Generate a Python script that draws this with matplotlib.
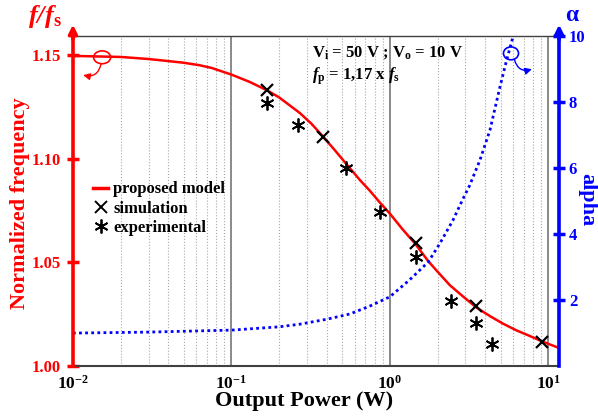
import matplotlib
matplotlib.use("Agg")
import matplotlib.pyplot as plt
from matplotlib.lines import Line2D
from matplotlib.patches import Ellipse
from matplotlib.ticker import FixedLocator, NullFormatter

plt.rcParams['font.family'] = ['Liberation Serif', 'DejaVu Serif']
plt.rcParams['font.weight'] = 'bold'
plt.rcParams['mathtext.fontset'] = 'custom'
plt.rcParams['mathtext.rm'] = 'Liberation Serif:bold'
plt.rcParams['mathtext.bf'] = 'Liberation Serif:bold'
plt.rcParams['mathtext.it'] = 'Liberation Serif:italic:bold'
plt.rcParams['mathtext.bfit'] = 'Liberation Serif:italic:bold'

# proposed model curve
model_p = [0.01, 0.02, 0.03, 0.04, 0.05, 0.063, 0.075, 0.1, 0.13, 0.167, 0.2, 0.27,
           0.32, 0.38, 0.45, 0.53, 0.65, 0.748, 0.865, 1.0, 1.2, 1.44, 1.75, 2.0, 2.39,
           2.9, 3.52, 4.3, 5.19, 6.3, 7.64, 9.2, 11.7]
model_f = [1.1495, 1.149, 1.148, 1.147, 1.1462, 1.145, 1.1437, 1.1405, 1.137, 1.133,
           1.1295, 1.122, 1.1168, 1.1105, 1.104, 1.0975, 1.0895, 1.0845, 1.0788, 1.0735,
           1.066, 1.0591, 1.0505, 1.0455, 1.039, 1.0335, 1.0282, 1.024, 1.0204, 1.0172,
           1.0145, 1.0118, 1.0087]

# simulation points
sim_p = [0.167, 0.38, 1.46, 3.49, 9.06]
sim_f = [1.133, 1.1105, 1.0591, 1.029, 1.0116]

# experimental points
exp_p = [0.167, 0.264, 0.53, 0.865, 1.46, 2.43, 3.49, 4.38]
exp_f = [1.127, 1.116, 1.0953, 1.0742, 1.0527, 1.0315, 1.021, 1.0106]

# alpha curve (right axis)
alpha_p = [0.01, 0.03, 0.1, 0.2, 0.27, 0.4, 0.56, 0.748, 1.0, 1.33, 1.75, 2.07,
           2.5, 2.9, 3.17, 3.7, 4.28, 4.95, 5.45, 6.0, 6.2]
alpha_v = [1.0, 1.03, 1.09, 1.19, 1.27, 1.42, 1.58, 1.82, 2.10, 2.61, 3.16, 3.72,
           4.42, 5.08, 5.45, 6.24, 7.15, 8.46, 9.27, 10.0, 10.3]

red = '#ff0000'
blue = '#0000ff'

fig = plt.figure(figsize=(5.98, 4.16), dpi=100)
ax = fig.add_axes([0.122, 0.120, 0.813, 0.793])
ax2 = ax.twinx()

ax.set_xscale('log')
ax.set_xlim(0.01, 11.7)
ax.set_ylim(1.0, 1.159)
ax2.set_ylim(0, 10)

# grid: solid decades, dotted minors
ax.grid(True, which='major', axis='x', color='#808080', lw=1.3, ls='-')
ax.grid(True, which='minor', axis='x', color='#a8a8a8', lw=0.8, ls=':')
ax.set_axisbelow(True)

ax.plot(model_p, model_f, color=red, lw=1.8, zorder=3)
ax.plot(sim_p, sim_f, ls='none', marker='x', ms=8, mew=1.6, color='black', zorder=4)
ax.plot(exp_p, exp_f, ls='none', marker=(6, 2, 0), ms=10, mew=1.3, color='black', zorder=4)
ax2.plot(alpha_p, alpha_v, color=blue, lw=2.0, ls=(0, (1, 1.2)))

# spines
for s in ['left', 'right']:
    ax.spines[s].set_visible(False)
ax2.spines['left'].set_color(red)
ax2.spines['left'].set_linewidth(2.6)
ax2.spines['right'].set_color(blue)
ax2.spines['right'].set_linewidth(2.6)
ax2.spines['top'].set_visible(False)
ax2.spines['bottom'].set_visible(False)
ax.spines['top'].set_color('#404040')
ax.spines['top'].set_linewidth(1.0)
ax.spines['bottom'].set_color('#404040')
ax.spines['bottom'].set_linewidth(1.5)

# ticks
ax.set_yticks([1.00, 1.05, 1.10, 1.15])
ax.tick_params(axis='y', direction='inout', length=9, width=2.5, colors=red,
               labelsize=12, pad=4)
ax2.yaxis.set_major_locator(FixedLocator([2, 4, 6, 8, 10]))
ax2.tick_params(axis='y', direction='inout', length=9, width=2.5, colors=blue,
                labelsize=12, pad=2.5)
ax.tick_params(axis='x', which='both', length=0, labelsize=12.5, pad=6)
ax.xaxis.set_minor_formatter(NullFormatter())
for lab in ax.get_yticklabels() + ax2.get_yticklabels() + ax.get_xticklabels():
    lab.set_fontweight('bold')

# arrows on the vertical axes
ax2.annotate('', xy=(0, 1.035), xytext=(0, 0.99), xycoords='axes fraction',
             arrowprops=dict(arrowstyle='-|>,head_length=0.5,head_width=0.25',
                             color=red, lw=2.6, shrinkA=0, shrinkB=0), annotation_clip=False)
ax2.annotate('', xy=(1, 1.035), xytext=(1, 0.99), xycoords='axes fraction',
             arrowprops=dict(arrowstyle='-|>,head_length=0.5,head_width=0.25',
                             color=blue, lw=2.6, shrinkA=0, shrinkB=0), annotation_clip=False)

# axis labels
ax.set_xlabel('Output Power (W)', fontsize=16, fontweight='bold')
ax.xaxis.set_label_coords(0.475, -0.076)
fig.text(0.034, 0.512, 'Normalized frequency', rotation=90, ha='center', va='center',
         fontsize=16, fontweight='bold', color=red)
fig.text(0.982, 0.52, 'alpha', rotation=270, ha='center', va='center',
         fontsize=16, fontweight='bold', color=blue)
fig.text(0.075, 0.96, r'$\mathbfit{f/f}_{\mathbf{s}}$', ha='center', va='center',
         fontsize=19, color=red)
fig.text(0.958, 0.963, r'$\mathbf{\alpha}$', ha='center', va='center',
         fontsize=17, color=blue)

# condition text
ax.text(0.492, 0.95, r'V$_{\mathbf{i}}$ = 50 V ; V$_{\mathbf{o}}$ = 10 V', transform=ax.transAxes,
        ha='left', va='center', fontsize=12, fontweight='bold')
ax.text(0.492, 0.88, r'$\mathbfit{f}_{\mathbf{p}}$ = 1,17 x $\mathbfit{f}_{\mathbf{s}}$',
        transform=ax.transAxes, ha='left', va='center', fontsize=12, fontweight='bold')

# ellipses with curved arrows pointing to the axes
ax.add_patch(Ellipse((0.060, 0.936), 0.035, 0.039, transform=ax.transAxes,
                     fill=False, ec=red, lw=1.2, zorder=5))
ax.annotate('', xy=(0.021, 0.882), xytext=(0.058, 0.917), xycoords='axes fraction',
            arrowprops=dict(arrowstyle='-|>,head_length=0.4,head_width=0.2', color=red,
                            lw=1.0, shrinkA=0, shrinkB=0, connectionstyle='arc3,rad=-0.5'))
ax.add_patch(Ellipse((0.901, 0.948), 0.031, 0.039, transform=ax.transAxes,
                     fill=False, ec=blue, lw=1.2, zorder=5))
ax.annotate('', xy=(0.944, 0.900), xytext=(0.908, 0.929), xycoords='axes fraction',
            arrowprops=dict(arrowstyle='-|>,head_length=0.4,head_width=0.2', color=blue,
                            lw=1.0, shrinkA=0, shrinkB=0, connectionstyle='arc3,rad=0.5'))

# legend
handles = [Line2D([], [], color=red, lw=2.5),
           Line2D([], [], ls='none', marker='x', ms=8, mew=1.4, color='black'),
           Line2D([], [], ls='none', marker=(6, 2, 0), ms=10, mew=1.3, color='black')]
leg = ax.legend(handles, ['proposed model', 'simulation', 'experimental'],
                loc='upper left', bbox_to_anchor=(0.028, 0.58), frameon=False,
                handlelength=0.9, handletextpad=0.3, labelspacing=0.2,
                prop={'size': 12, 'weight': 'bold'}, borderaxespad=0)

fig.savefig('out.png', dpi=100)
